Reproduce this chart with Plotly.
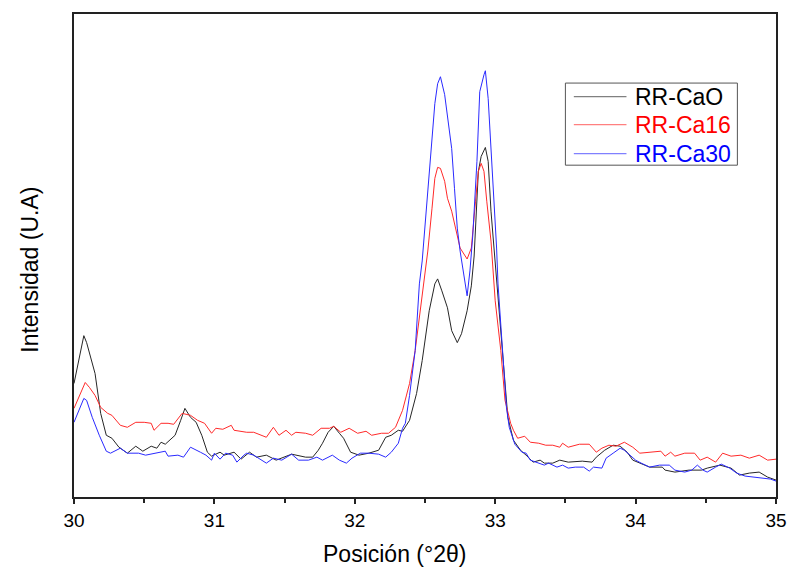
import plotly.graph_objects as go

# RR-CaO (black)
x_cao = [30.00, 30.07, 30.09, 30.15, 30.19, 30.23, 30.27, 30.32, 30.38, 30.44, 30.49, 30.55, 30.59, 30.62,
         30.65, 30.72, 30.76, 30.79, 30.83, 30.87, 30.91, 30.95, 30.98, 31.04, 31.07, 31.14, 31.19, 31.25,
         31.30, 31.37, 31.44, 31.55, 31.65, 31.70, 31.74, 31.77, 31.81, 31.85, 31.89, 31.92, 31.97, 32.03,
         32.10, 32.17, 32.22, 32.26, 32.31, 32.34, 32.39, 32.44, 32.48, 32.53, 32.57, 32.59, 32.62, 32.66,
         32.69, 32.73, 32.76, 32.80, 32.83, 32.85, 32.88, 32.90, 32.93, 32.95, 32.97, 33.00, 33.02, 33.06,
         33.09, 33.13, 33.18, 33.22, 33.27, 33.32, 33.35, 33.41, 33.46, 33.52, 33.62, 33.69, 33.72, 33.78,
         33.84, 33.89, 33.94, 33.98, 34.03, 34.10, 34.19, 34.21, 34.28, 34.38, 34.47, 34.51, 34.60, 34.68,
         34.74, 34.81, 34.88, 34.94, 35.00]
py_cao = [383, 335, 342, 373, 413, 435, 438, 447, 453, 446, 451, 446, 448, 442,
          444, 435, 420, 408, 417, 422, 435, 452, 456, 452, 455, 452, 459, 452,
          457, 455, 460, 454, 457, 457, 450, 443, 432, 426, 433, 438, 452, 455,
          453, 450, 437, 435, 430, 431, 420, 393, 360, 310, 283, 278, 290, 307,
          330, 342, 333, 310, 285, 255, 170, 155, 146, 160, 210, 260, 300, 367,
          417, 440, 450, 455, 462, 460, 463, 463, 460, 462, 461, 462, 457, 450,
          445, 446, 452, 460, 463, 467, 467, 470, 472, 470, 470, 468, 465, 468,
          475, 473, 472, 477, 480]

# RR-Ca16 (red)
x_ca16 = [30.00, 30.08, 30.11, 30.15, 30.19, 30.24, 30.27, 30.33, 30.38, 30.44, 30.50, 30.55, 30.57, 30.62,
          30.67, 30.71, 30.77, 30.83, 30.88, 30.93, 30.98, 31.01, 31.06, 31.12, 31.14, 31.23, 31.28, 31.37,
          31.42, 31.46, 31.51, 31.55, 31.58, 31.65, 31.70, 31.76, 31.82, 31.85, 31.90, 31.96, 32.02, 32.08,
          32.12, 32.19, 32.24, 32.29, 32.34, 32.39, 32.43, 32.46, 32.50, 32.52, 32.55, 32.57, 32.59, 32.61,
          32.64, 32.66, 32.69, 32.72, 32.75, 32.80, 32.83, 32.86, 32.88, 32.90, 32.92, 32.94, 32.97, 33.00,
          33.04, 33.07, 33.11, 33.13, 33.16, 33.21, 33.25, 33.31, 33.36, 33.41, 33.46, 33.48, 33.52, 33.60,
          33.67, 33.72, 33.76, 33.81, 33.86, 33.92, 33.98, 34.03, 34.10, 34.18, 34.21, 34.25, 34.28, 34.35,
          34.42, 34.46, 34.51, 34.57, 34.62, 34.68, 34.75, 34.81, 34.88, 34.94, 35.00]
py_ca16 = [408, 382, 387, 395, 407, 413, 415, 425, 427, 422, 422, 423, 430, 423,
           423, 424, 413, 415, 420, 423, 433, 428, 429, 425, 430, 432, 432, 437,
           427, 435, 430, 435, 432, 433, 435, 428, 428, 426, 432, 428, 433, 431,
           435, 433, 433, 427, 410, 383, 350, 317, 277, 250, 207, 177, 166, 167,
           180, 197, 210, 227, 247, 258, 247, 200, 170, 162, 170, 200, 240, 300,
           350, 400, 423, 430, 438, 436, 442, 443, 445, 445, 447, 443, 447, 444,
           444, 452, 448, 445, 446, 442, 447, 453, 452, 451, 456, 452, 456, 453,
           453, 460, 457, 462, 453, 456, 455, 458, 455, 460, 459]

# RR-Ca30 (blue)
x_ca30 = [30.00, 30.07, 30.09, 30.13, 30.18, 30.23, 30.26, 30.33, 30.38, 30.46, 30.51, 30.59, 30.65, 30.67,
          30.74, 30.78, 30.83, 30.90, 30.94, 30.98, 31.00, 31.04, 31.08, 31.13, 31.16, 31.21, 31.23, 31.28,
          31.34, 31.37, 31.42, 31.48, 31.55, 31.60, 31.67, 31.73, 31.77, 31.84, 31.89, 31.94, 31.98, 32.04,
          32.10, 32.17, 32.22, 32.26, 32.31, 32.34, 32.36, 32.39, 32.43, 32.46, 32.48, 32.52, 32.55, 32.57,
          32.59, 32.61, 32.64, 32.66, 32.69, 32.71, 32.73, 32.75, 32.78, 32.80, 32.82, 32.84, 32.87, 32.89,
          32.92, 32.93, 32.95, 32.97, 32.99, 33.01, 33.02, 33.05, 33.08, 33.10, 33.14, 33.19, 33.22, 33.25,
          33.29, 33.35, 33.38, 33.44, 33.48, 33.52, 33.57, 33.63, 33.67, 33.70, 33.76, 33.79, 33.84, 33.89,
          33.92, 33.96, 34.00, 34.04, 34.10, 34.17, 34.24, 34.28, 34.35, 34.40, 34.44, 34.48, 34.51, 34.57,
          34.61, 34.67, 34.72, 34.78, 34.83, 34.90, 34.96, 35.00]
py_ca30 = [422, 398, 400, 417, 435, 451, 453, 448, 453, 453, 455, 453, 451, 456,
           455, 457, 447, 452, 455, 460, 453, 459, 453, 455, 462, 455, 453, 455,
           460, 463, 458, 460, 454, 460, 460, 457, 460, 455, 460, 463, 458, 453,
           453, 454, 457, 452, 443, 428, 423, 395, 350, 283, 260, 193, 143, 102,
           82, 75, 93, 113, 147, 187, 227, 250, 280, 295, 270, 235, 160, 90,
           73, 69, 97, 143, 193, 247, 283, 350, 407, 427, 444, 452, 453, 460,
           462, 465, 463, 467, 465, 468, 467, 467, 471, 467, 468, 458, 453, 448,
           450, 455, 460, 463, 467, 465, 465, 470, 472, 470, 465, 470, 472, 467,
           464, 468, 473, 476, 477, 478, 479, 481]

BASE = 497  # readings above are image rows; intensity counts upward from the axis
y_cao = [BASE - v for v in py_cao]
y_ca16 = [BASE - v for v in py_ca16]
y_ca30 = [BASE - v for v in py_ca30]

names = ["RR-CaO", "RR-Ca16", "RR-Ca30"]
colors = ["#262626", "#ff2a2a", "#2a2aff"]
legend_line_colors = ["#808080", "#ff8080", "#8080ff"]
text_colors = ["#000000", "#ff0000", "#0000ff"]

FONT = "Arial, 'Liberation Sans', sans-serif"

fig = go.Figure()
for xs, ys, n, c in zip([x_cao, x_ca16, x_ca30], [y_cao, y_ca16, y_ca30], names, colors):
    fig.add_trace(go.Scatter(x=xs, y=ys, mode="lines", line=dict(color=c, width=1), name=n))

# custom legend (box, line samples, coloured labels) in paper coordinates
fig.add_shape(type="rect", xref="paper", yref="paper", x0=0.700, x1=0.945, y0=0.687, y1=0.857,
              line=dict(color="#555", width=1), fillcolor="white", layer="above")
row_y = [0.829, 0.771, 0.711]
for ry, n, lc, tc in zip(row_y, names, legend_line_colors, text_colors):
    fig.add_shape(type="line", xref="paper", yref="paper", x0=0.712, x1=0.787, y0=ry, y1=ry,
                  line=dict(color=lc, width=1.2), layer="above")
    fig.add_annotation(xref="paper", yref="paper", x=0.796, y=ry, xanchor="left", yanchor="middle",
                       text=n, showarrow=False, font=dict(size=23, color=tc, family=FONT))

# axis titles (centred as in the original)
fig.add_annotation(xref="paper", yref="paper", x=0.457, y=-0.118, xanchor="center", yanchor="middle",
                   text="Posición (°2θ)", showarrow=False, font=dict(size=23, color="#000", family=FONT))
fig.add_annotation(xref="paper", yref="paper", x=-0.063, y=0.470, xanchor="center", yanchor="middle",
                   text="Intensidad (U.A)", textangle=-90, showarrow=False,
                   font=dict(size=23, color="#000", family=FONT))

fig.update_layout(
    width=799, height=573, autosize=False,
    margin=dict(l=74, r=12, t=12, b=76),
    paper_bgcolor="white", plot_bgcolor="white",
    font=dict(family=FONT, size=18, color="#000"),
    showlegend=False,
    xaxis=dict(range=[30, 35], tickvals=[30, 31, 32, 33, 34, 35],
               ticks="outside", ticklen=5, tickwidth=1.5, tickcolor="#222",
               minor=dict(ticks="outside", ticklen=4, tickwidth=1.5, tickcolor="#222", dtick=0.5),
               showline=True, linecolor="#222", linewidth=1.8, mirror=True,
               showgrid=False, zeroline=False,
               tickfont=dict(size=19)),
    yaxis=dict(range=[0, 485], showticklabels=False, ticks="",
               showline=True, linecolor="#222", linewidth=1.8, mirror=True,
               showgrid=False, zeroline=False),
)

fig.write_html("out.html")
